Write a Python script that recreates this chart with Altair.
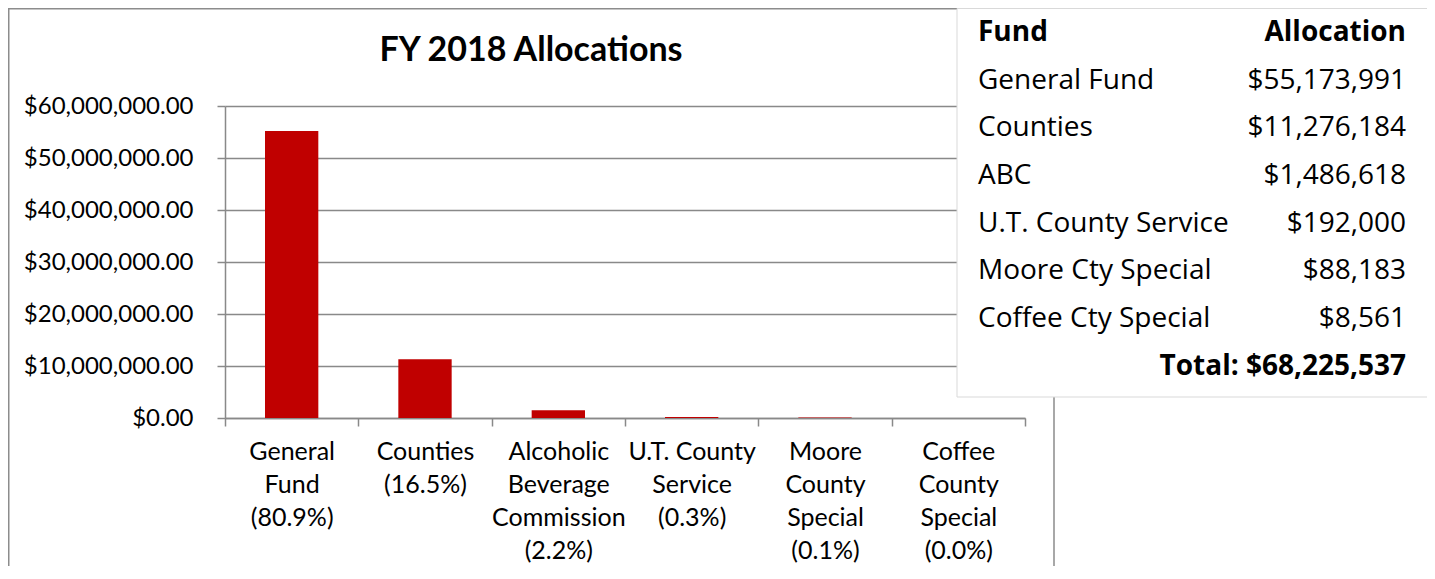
import altair as alt
import pandas as pd

# ---- data ----
categories = [
    "General|Fund",
    "Counties",
    "Alcoholic|Beverage|Commission",
    "U.T. County|Service",
    "Moore|County|Special",
    "Coffee|County|Special",
]
values = [55173991, 11276184, 1486618, 192000, 88183, 8561]
percents = ["80.9%", "16.5%", "2.2%", "0.3%", "0.1%", "0.0%"]

table_funds = ["General Fund", "Counties", "ABC", "U.T. County Service",
               "Moore Cty Special", "Coffee Cty Special"]
table_amounts = ["$55,173,991", "$11,276,184", "$1,486,618", "$192,000",
                 "$88,183", "$8,561"]
table_header = ["Fund", "Allocation"]
table_total = "Total: $68,225,537"
title_text = "FY 2018 Allocations"
y_ticks = [0, 10000000, 20000000, 30000000, 40000000, 50000000, 60000000]

# ---- styling ----
RED = "#C00000"
GRID = "#898989"
CHART_FONT = "Lato"
TABLE_FONT = "Open Sans"

W, H = 800, 312
PAD_L, PAD_T = 217, 98
TOTAL_W, TOTAL_H = 1419, 558

bars_df = pd.DataFrame({
    "cat": [c + "|(" + p + ")" for c, p in zip(categories, percents)],
    "value": values,
})

order = list(bars_df["cat"])

bars = alt.Chart(bars_df).mark_bar(
    color=RED, width=alt.RelativeBandSize(0.4)
).encode(
    x=alt.X("cat:N", sort=order, title=None,
            scale=alt.Scale(paddingInner=0, paddingOuter=0),
            axis=alt.Axis(labelExpr="split(datum.label, '|')",
                          labelAngle=0, labelFont=CHART_FONT, labelFontSize=25,
                          labelColor="#000", labelLineHeight=33,
                          labelPadding=13, labelLimit=0,
                          tickBand="extent", tickSize=8, tickColor=GRID,
                          tickWidth=1.5, domainColor=GRID, domainWidth=1.5,
                          grid=False)),
    y=alt.Y("value:Q", title=None,
            scale=alt.Scale(domain=[0, 60000000], nice=False, zero=True),
            axis=alt.Axis(values=y_ticks,
                          labelExpr="'$' + format(datum.value, ',.2f')",
                          labelFont=CHART_FONT, labelFontSize=24,
                          labelColor="#000", labelPadding=24,
                          tickSize=8, tickColor=GRID, tickWidth=1.5,
                          domainColor=GRID, domainWidth=1.5,
                          grid=True, gridColor=GRID, gridWidth=1.5)),
)

one = pd.DataFrame({"k": [0]})

border = alt.Chart(one).mark_rect(
    fill="white", fillOpacity=0, stroke="#8c8c8c", strokeWidth=1.5
).encode(
    x=alt.value(-PAD_L + 0.75), x2=alt.value(829),
    y=alt.value(-PAD_T + 0.75), y2=alt.value(H + 200),
)

title_df = pd.DataFrame({"t": [title_text]})
title = alt.Chart(title_df).mark_text(
    font=CHART_FONT, fontSize=34, fontWeight="bold", color="#000",
    align="center", baseline="middle"
).encode(x=alt.value(306), y=alt.value(-55), text="t:N")

table_box = alt.Chart(one).mark_rect(
    fill="white", stroke="#d9d9d9", strokeWidth=1
).encode(
    x=alt.value(732), x2=alt.value(1206),
    y=alt.value(-PAD_T + 0.5), y2=alt.value(291),
)

rows = list(range(1, len(table_funds) + 1))
body_df = pd.DataFrame({"row": rows, "fund": table_funds, "amount": table_amounts})
head_df = pd.DataFrame({"row": [0], "fund": [table_header[0]], "amount": [table_header[1]]})
total_df = pd.DataFrame({"row": [len(table_funds) + 1], "amount": [table_total]})

row_y = alt.Y("row:Q", axis=None,
              scale=alt.Scale(domain=[0, 7], range=[-73, 260.5], nice=False, zero=False))

body_left = alt.Chart(body_df).mark_text(
    font=TABLE_FONT, fontSize=28, color="#000", align="left", baseline="middle"
).encode(x=alt.value(753), y=row_y, text="fund:N")
body_right = alt.Chart(body_df).mark_text(
    font=TABLE_FONT, fontSize=28, color="#000", align="right", baseline="middle"
).encode(x=alt.value(1181), y=row_y, text="amount:N")
head_left = alt.Chart(head_df).mark_text(
    font=TABLE_FONT, fontSize=28, fontWeight="bold", color="#000",
    align="left", baseline="middle"
).encode(x=alt.value(753), y=row_y, text="fund:N")
head_right = alt.Chart(head_df).mark_text(
    font=TABLE_FONT, fontSize=28, fontWeight="bold", color="#000",
    align="right", baseline="middle"
).encode(x=alt.value(1181), y=row_y, text="amount:N")
total = alt.Chart(total_df).mark_text(
    font=TABLE_FONT, fontSize=28, fontWeight="bold", color="#000",
    align="right", baseline="middle"
).encode(x=alt.value(1181), y=row_y, text="amount:N")

chart = alt.layer(
    border, bars, title, table_box, head_left, head_right,
    body_left, body_right, total
).resolve_scale(y="independent").properties(
    width=W, height=H,
    autosize=alt.AutoSizeParams(type="none"),
    padding={"left": PAD_L, "top": PAD_T,
             "right": TOTAL_W - PAD_L - W, "bottom": TOTAL_H - PAD_T - H},
    background="white",
).configure_view(stroke=None)

chart.save("out.html", embed_options={"renderer": "svg", "actions": False})
